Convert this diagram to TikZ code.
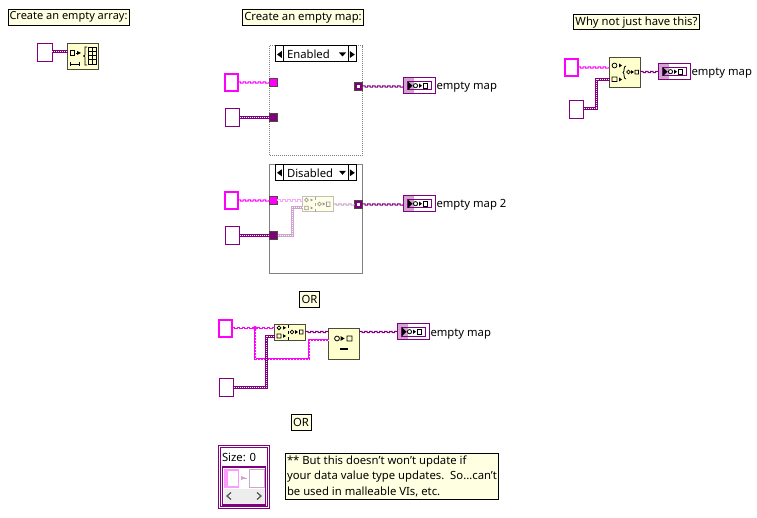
\documentclass[tikz,border=0pt]{standalone}
\usepackage{fontspec}
\setmainfont{Noto Sans}
\usetikzlibrary{decorations}
\definecolor{mag}{RGB}{255,0,255}
\definecolor{pur}{RGB}{128,0,128}
\definecolor{noteY}{RGB}{255,255,225}
\definecolor{fnY}{RGB}{255,255,205}
\definecolor{fnB}{RGB}{75,75,55}
\definecolor{ghostM}{RGB}{245,170,245}
\definecolor{ghostP}{RGB}{205,165,205}
\definecolor{frameG}{RGB}{130,130,130}
\pgfdeclaredecoration{sqwave}{up}{
 \state{up}[width=2.5pt,next state=down]{\pgfpathlineto{\pgfpoint{0pt}{.65pt}}\pgfpathlineto{\pgfpoint{2.5pt}{.65pt}}}
 \state{down}[width=2.5pt,next state=up]{\pgfpathlineto{\pgfpoint{0pt}{-.65pt}}\pgfpathlineto{\pgfpoint{2.5pt}{-.65pt}}}
 \state{final}{\pgfpathlineto{\pgfpointdecoratedpathlast}}
}
\tikzset{
 x=1pt,y=-1pt,
 every node/.style={inner sep=0pt,outer sep=0pt,font=\fontsize{11.3}{14}\selectfont},
 magctl/.style={draw=mag,line width=2.6pt,fill=white},
 purctl/.style={draw=pur,line width=1pt,fill=white},
 fnnode/.style={draw=fnB,line width=1pt,fill=fnY},
 ghostnode/.style={draw=fnB!35,line width=1pt,fill=fnY!50},
 note/.style={draw=black,line width=1pt,fill=noteY},
 tunM/.style={draw=fnB,line width=1pt,fill=mag},
 tunP/.style={draw=fnB,line width=1pt,fill=pur},
 indic/.style={draw=pur,line width=1pt,fill=white},
 seltab/.style={draw=black,line width=1pt,fill=white},
 lab/.style={anchor=base west,text=black},
 magwire/.style={draw=mag,line width=1pt,decorate,decoration=sqwave},
 mapwire/.style={draw=pur,line width=1pt,decorate,decoration=sqwave},
 ghostmag/.style={draw=ghostM,line width=1pt,decorate,decoration=sqwave},
 ghostmap/.style={draw=ghostP,line width=1pt,decorate,decoration=sqwave},
}
% rectangle node by corner coordinates
\newcommand\bx[6]{\node[#6,minimum width={(#4-#2)*1pt},minimum height={(#5-#3)*1pt}] (#1) at ({(#2+#4)/2},{(#3+#5)/2}) {};}
% thick array wire
\newcommand\arrwire[2][pur]{\draw[#1,line width=3pt] #2; \draw[white,line width=1pt,dash pattern=on 1pt off 1pt] #2;}
% dotted magenta branch wire
\newcommand\magbranch[1]{\draw[mag,line width=2pt] #1; \draw[white,line width=.8pt,dash pattern=on 1pt off 2pt] #1;}
% map indicator
\newcommand\mapind[4]{%
 \bx{#1}{#2}{#3}{#2+31.5}{#3+15.5}{indic}
 \fill[ghostP] (#2+.5,#3+.5) rectangle (#2+10,#3+15);
 \draw[pur,line width=1pt] (#2+4,#3+3.5) rectangle (#2+28,#3+12);
 \fill[black] (#2+4.5,#3+3.5) -- (#2+9,#3+7.7) -- (#2+4.5,#3+12) -- cycle;
 \draw[black,line width=.8pt] (#2+12,#3+7.7) circle (2.1);
 \fill[black] (#2+15.5,#3+5.5) -- (#2+18.5,#3+7.7) -- (#2+15.5,#3+10) -- cycle;
 \draw[black,line width=.8pt] (#2+20,#3+5) rectangle (#2+24,#3+10.5);
 \node[lab] (#1l) at (#2+33,#3+12) {#4};}
% structure selector
\newcommand\selector[3]{%
 \bx{#1}{275.3}{#2}{356.7}{#2+16}{seltab}
 \draw[black,line width=1pt] (283.3,#2) -- (283.3,#2+16) (348.3,#2) -- (348.3,#2+16);
 \fill[black] (281.8,#2+5) -- (277,#2+8.5) -- (281.8,#2+12) -- cycle;
 \fill[black] (349.8,#2+5) -- (354.8,#2+8.5) -- (349.8,#2+12) -- cycle;
 \fill[black] (339,#2+6.5) -- (346,#2+6.5) -- (342.5,#2+10.5) -- cycle;
 \node[anchor=west] (#1t) at (287,#2+8.6) {#3};}
\begin{document}
\begin{tikzpicture}
\useasboundingbox (0,0) rectangle (757,518);
\fill[white] (0,0) rectangle (757,518);

%% notes
\node[note,minimum width=121pt,minimum height=16pt,font=\fontsize{11}{14}\selectfont] (n1) at (68.5,17.3) {Create an empty array:};
\node[note,minimum width=121pt,minimum height=16pt] (n2) at (303,17.3) {Create an empty map:};
\node[note,minimum width=126pt,minimum height=15pt] (n3) at (636.5,22.5) {Why not just have this?};
\node[note,minimum width=20pt,minimum height=16.5pt] (or1) at (309.5,299.5) {OR};
\node[note,minimum width=20pt,minimum height=16pt] (or2) at (301,422) {OR};
\node[note,minimum width=213pt,minimum height=46pt,align=left,anchor=north west] (n4) at (285.5,453.3) {};
\node[anchor=west] (n4a) at (287,462) {** But this doesn't won't update if};
\node[anchor=west] (n4b) at (287,477) {your data value type updates.\ \ So...can't};
\node[anchor=west] (n4c) at (287,492) {be used in malleable VIs, etc.};

%% initialize array
\bx{a1}{37.5}{43.5}{52}{61.5}{purctl}
\bx{a2}{67.5}{43.5}{98.5}{69.5}{fnnode}
\arrwire{(a1.east |- 0,52) -- (a2.west |- 0,52)}
\draw[black,line width=.8pt] (70.5,50.5) rectangle (74.5,55);
\fill[black] (77,51) -- (81,53) -- (77,55) -- cycle; \draw[black,line width=.8pt] (75.5,53) -- (78,53);
\draw[black,line width=.8pt] (87,47) -- (85,47) -- (85,55) -- (83.5,56) -- (85,57) -- (85,65) -- (87,65);
\draw[black,line width=.7pt] (88.5,47.5) rectangle (96.5,64);
\draw[black,line width=.7pt] (92.5,47.5) -- (92.5,64) (88.5,51.6) -- (96.5,51.6) (88.5,55.7) -- (96.5,55.7) (88.5,59.8) -- (96.5,59.8);
\draw[black,line width=.8pt] (70,62) -- (70,66.5) (79,62) -- (79,66.5) (70,64.3) -- (79,64.3);

%% enabled structure
\bx{s1}{269.5}{46}{362.5}{155.5}{draw=frameG,line width=1pt,densely dotted}
\selector{sel1}{46}{Enabled}
\bx{c1}{225}{74}{238}{91}{magctl}
\bx{c2}{225.3}{108.5}{239.5}{126.5}{purctl}
\bx{t1}{269.5}{78.5}{277.5}{86.5}{tunM}
\bx{t2}{269.5}{113.5}{277.5}{121.5}{tunP}
\bx{t3}{354.5}{82.5}{362.5}{90.5}{tunP}
\fill[white] (t3.center) +(-1.5,-1.5) rectangle +(1.5,1.5);
\draw[magwire] (c1.east |- t1.west) -- (t1.west);
\arrwire{(c2.east |- t2.west) -- (t2.west)}
\mapind{i1}{403.5}{78}{empty map}
\draw[mapwire] (t3.east) -- (i1.west |- t3.east);

%% disabled structure
\bx{s2}{269.5}{164.5}{362.5}{273.3}{draw=frameG,line width=1pt}
\selector{sel2}{164.3}{Disabled}
\bx{c3}{225}{192}{238}{209}{magctl}
\bx{c4}{225.3}{226.3}{239.5}{244.5}{purctl}
\bx{t4}{269.5}{196.5}{277.5}{204.5}{tunM}
\bx{t5}{269.5}{231.5}{277.5}{239.5}{tunP}
\bx{t6}{354.5}{200.5}{362.5}{208.5}{tunP}
\fill[white] (t6.center) +(-1.5,-1.5) rectangle +(1.5,1.5);
\bx{g1}{302.5}{196.5}{333.5}{212}{ghostnode}
\draw[black!40,line width=.8pt] (306.5,200) circle (1.9) (304.8,206.3) rectangle (308.2,209.8);
\fill[black!40] (310.5,198.5) -- (313,200) -- (310.5,201.5) -- cycle (310.5,206.5) -- (313,208) -- (310.5,209.5) -- cycle;
\draw[fnB!50,dashed,line width=.6pt] (315,197) -- (315,212);
\draw[black!40,line width=.8pt] (319.5,204) circle (1.9) (326.5,202) rectangle (330,206.5);
\fill[black!40] (322.5,202.2) -- (325.3,204) -- (322.5,205.8) -- cycle;
\draw[magwire] (c3.east |- t4.west) -- (t4.west);
\arrwire{(c4.east |- t5.west) -- (t5.west)}
\draw[ghostmag] (t4.east) -- (g1.west |- t4.east);
\coordinate (g1b) at (g1.west |- 0,208);
\coordinate (g1k) at (292,235.5);
\arrwire[ghostP]{(t5.east) -- (g1k) |- (g1b)}
\draw[ghostmap] (g1.east |- t6.west) -- (t6.west);
\mapind{i2}{403.5}{196}{empty map 2}
\draw[mapwire] (t6.east) -- (i2.west |- t6.east);

%% OR: build with insert/delete
\bx{c5}{219}{320}{232}{337}{magctl}
\bx{c6}{219.3}{378.5}{233.5}{396.5}{purctl}
\bx{f1}{274.5}{324.5}{305.5}{340}{fnnode}
\bx{f2}{328.5}{328.5}{359.5}{359.5}{fnnode}
\coordinate (jn) at (255,328);
\coordinate (jb) at (309.3,359);
\coordinate (f2a) at (f2.west |- 0,340);
\magbranch{(jn) |- (jb) |- (f2a)}
\draw[magwire] (c5.east |- jn) -- (jn) -- (f1.west |- jn);
\fill[mag] (jn) circle (2);
\coordinate (f1b) at (f1.west |- 0,336);
\coordinate (c6k) at (266,387);
\arrwire{(c6.east |- c6k) -- (c6k) |- (f1b)}
\draw[mapwire] (f1.east |- 0,332) -- (f2.west |- 0,332);
\draw[black,line width=.8pt] (279,327.8) circle (1.9) (277,334) rectangle (281,338);
\fill[black] (283,326) -- (286,327.8) -- (283,329.6) -- cycle (283,334.2) -- (286,336) -- (283,337.8) -- cycle;
\draw[black,dashed,line width=.5pt] (288,325) -- (288,340);
\draw[black,line width=.8pt] (292,332) circle (1.9) (299.5,330) rectangle (303,334);
\fill[black] (295,330) -- (298,332) -- (295,334) -- cycle;
\draw[black,line width=.8pt] (337,338.5) circle (2.4) (347,336) rectangle (352,341);
\fill[black] (340.5,336) -- (344.5,338.5) -- (340.5,341) -- cycle;
\draw[black,line width=1.2pt] (340,349) -- (348,349);
\mapind{i3}{397.5}{324}{empty map}
\draw[mapwire] (f2.east |- 0,332) -- (i3.west |- 0,332);

%% map constant
\bx{k0}{218.5}{445.5}{269.5}{508}{draw=pur,line width=1pt,fill=white}
\bx{k1}{220.5}{447.5}{267.5}{506}{draw=pur,line width=1pt,fill=white}
\node[anchor=west] (ks) at (222,457) {Size: 0};
\bx{k2}{222.5}{467}{265.5}{505}{draw=pur,line width=1.8pt,fill=white}
\fill[mag!40] (224,469) rectangle (239,488);
\fill[white] (227.5,471) rectangle (237.5,486);
\bx{k3}{249.5}{469.5}{264}{487.5}{draw=ghostP,line width=1pt,fill=white}
\fill[ghostP] (241,476) -- (246,478) -- (241,480) -- cycle;
\draw[ghostP,line width=.8pt] (241,478) -- (247,478);
\fill[black!7] (224,488.5) rectangle (264.5,503.5);
\draw[black!65,line width=1.3pt] (231,492.5) -- (227,496) -- (231,499.5) (257,492.5) -- (261,496) -- (257,499.5);

%% why not
\bx{c7}{565}{59}{578}{76}{magctl}
\bx{c8}{569.3}{100.3}{583.5}{118.5}{purctl}
\bx{f3}{609.5}{57.5}{640.5}{88}{fnnode}
\draw[magwire] (c7.east) -- (f3.west |- c7.east);
\coordinate (c8k) at (596.7,109);
\coordinate (f3b) at (f3.west |- 0,79.3);
\arrwire{(c8.east |- c8k) -- (c8k) |- (f3b)}
\draw[black,line width=.8pt] (614.5,65.5) circle (2.4) (612,77) rectangle (617,81.5);
\fill[black] (619,63.5) -- (622,65.5) -- (619,67.5) -- cycle (619,77.5) -- (622,79.5) -- (619,81.5) -- cycle;
\draw[black,line width=.8pt] (626,66) .. controls (623,66) and (625,72) .. (623,72.5) .. controls (625,73) and (623,79) .. (626,79);
\draw[black,line width=.8pt] (628.5,72) circle (1.9) (635,70.3) rectangle (638.5,74);
\fill[black] (631,70.2) -- (634,72) -- (631,73.8) -- cycle;
\mapind{i4}{658.5}{64}{empty map}
\draw[mapwire] (f3.east |- 0,72) -- (i4.west |- 0,72);
\end{tikzpicture}
\end{document}
